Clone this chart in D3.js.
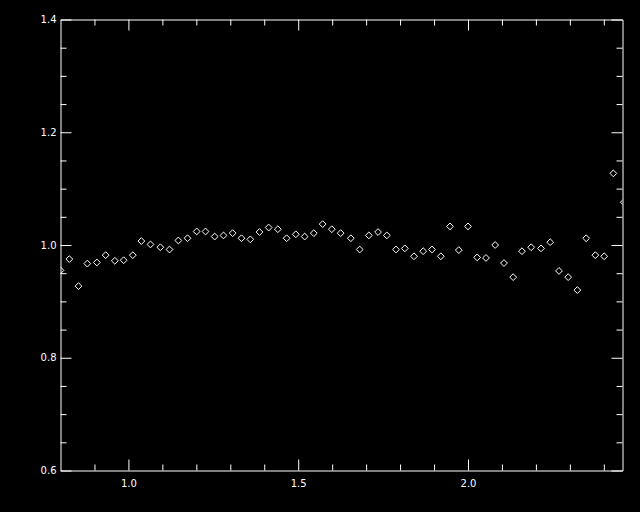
<!DOCTYPE html>
<html>
<head>
<meta charset="utf-8">
<script src="https://cdnjs.cloudflare.com/ajax/libs/d3/7.8.5/d3.min.js"></script>
<style>
  html, body { margin: 0; padding: 0; background: #000; }
  svg { display: block; }
  .tick text { font-family: 'DejaVu Sans', sans-serif; font-size: 10px; fill: #fff; }
</style>
</head>
<body>
<svg id="chart" width="640" height="512"></svg>
<script>
// wavelength (x) and ratio (y)
var xValues = [
  0.800, 0.826, 0.853, 0.879, 0.907, 0.933, 0.960, 0.986, 1.013, 1.038,
  1.065, 1.094, 1.121, 1.147, 1.174, 1.201, 1.227, 1.254, 1.280, 1.307,
  1.333, 1.359, 1.386, 1.413, 1.440, 1.466, 1.493, 1.519, 1.546, 1.572,
  1.599, 1.625, 1.655, 1.681, 1.708, 1.735, 1.761, 1.788, 1.814, 1.841,
  1.868, 1.894, 1.920, 1.947, 1.973, 2.000, 2.027, 2.053, 2.080, 2.106,
  2.133, 2.159, 2.186, 2.215, 2.242, 2.268, 2.295, 2.322, 2.348, 2.375,
  2.401, 2.428, 2.459
];
var yValues = [
  0.955, 0.975, 0.927, 0.967, 0.969, 0.982, 0.972, 0.973, 0.982, 1.007,
  1.001, 0.996, 0.992, 1.008, 1.012, 1.024, 1.024, 1.015, 1.017, 1.021,
  1.012, 1.010, 1.023, 1.031, 1.028, 1.012, 1.019, 1.015, 1.021, 1.037,
  1.028, 1.021, 1.012, 0.992, 1.017, 1.023, 1.017, 0.992, 0.994, 0.980,
  0.989, 0.992, 0.980, 1.033, 0.991, 1.033, 0.978, 0.977, 1.000, 0.968,
  0.943, 0.989, 0.996, 0.994, 1.005, 0.954, 0.943, 0.920, 1.012, 0.982,
  0.980, 1.127, 1.076
];
var xDomain = [0.8, 2.455];
var yDomain = [0.6, 1.4];
var xMajorTicks = [1.0, 1.5, 2.0];
var xMinorTicks = [0.9, 1.1, 1.2, 1.3, 1.4, 1.6, 1.7, 1.8, 1.9, 2.1, 2.2, 2.3, 2.4];
var yMajorTicks = [0.6, 0.8, 1.0, 1.2, 1.4];
var yMinorTicks = [0.65, 0.7, 0.75, 0.85, 0.9, 0.95, 1.05, 1.1, 1.15, 1.25, 1.3, 1.35];

function drawChart() {
  var svg = d3.select('#chart');
  var left = 60.5, right = 622.5, top = 19.5, bottom = 470.5;
  var majorLen = 11, minorLen = 6;

  var x = d3.scaleLinear().domain(xDomain).range([left, right]);
  var y = d3.scaleLinear().domain(yDomain).range([bottom, top]);

  svg.append('clipPath').attr('id', 'plot-clip')
    .append('rect')
    .attr('x', left).attr('y', top)
    .attr('width', right - left).attr('height', bottom - top);

  function styleAxis(g) {
    g.selectAll('path.domain').attr('stroke', '#fff').attr('stroke-width', 1);
    g.selectAll('line').attr('stroke', '#fff').attr('stroke-width', 1);
  }

  function addAxis(axisFn, scale, ticks, len, pos, showLabels, fmt) {
    var a = axisFn(scale).tickValues(ticks).tickSizeInner(-len).tickSizeOuter(0);
    a.tickFormat(showLabels ? fmt : function() { return ''; });
    var g = svg.append('g').attr('transform', pos).call(a);
    styleAxis(g);
    return g;
  }

  var fmt1 = d3.format('.1f');

  // bottom
  var gb = addAxis(d3.axisBottom, x, xMajorTicks, majorLen, 'translate(0,' + bottom + ')', true, fmt1);
  gb.selectAll('.tick text').attr('y', 9.5);
  addAxis(d3.axisBottom, x, xMinorTicks, minorLen, 'translate(0,' + bottom + ')', false).select('path.domain').remove();
  // top
  addAxis(d3.axisTop, x, xMajorTicks, majorLen, 'translate(0,' + top + ')', false);
  addAxis(d3.axisTop, x, xMinorTicks, minorLen, 'translate(0,' + top + ')', false).select('path.domain').remove();
  // left
  var gl = addAxis(d3.axisLeft, y, yMajorTicks, majorLen, 'translate(' + left + ',0)', true, fmt1);
  gl.selectAll('.tick text').attr('x', -4);
  addAxis(d3.axisLeft, y, yMinorTicks, minorLen, 'translate(' + left + ',0)', false).select('path.domain').remove();
  // right
  addAxis(d3.axisRight, y, yMajorTicks, majorLen, 'translate(' + right + ',0)', false);
  addAxis(d3.axisRight, y, yMinorTicks, minorLen, 'translate(' + right + ',0)', false).select('path.domain').remove();

  var pts = xValues.map(function(v, i) { return { x: v, y: yValues[i] }; });
  var r = 3.4;
  svg.append('g').attr('clip-path', 'url(#plot-clip)')
    .selectAll('path.pt')
    .data(pts)
    .enter().append('path')
    .attr('class', 'pt')
    .attr('d', function(d) {
      var cx = x(d.x), cy = y(d.y);
      return 'M' + cx + ',' + (cy - r) + 'L' + (cx + r) + ',' + cy +
        'L' + cx + ',' + (cy + r) + 'L' + (cx - r) + ',' + cy + 'Z';
    })
    .attr('fill', 'none')
    .attr('stroke', '#fff')
    .attr('stroke-width', 1);
}

drawChart();
</script>
</body>
</html>
